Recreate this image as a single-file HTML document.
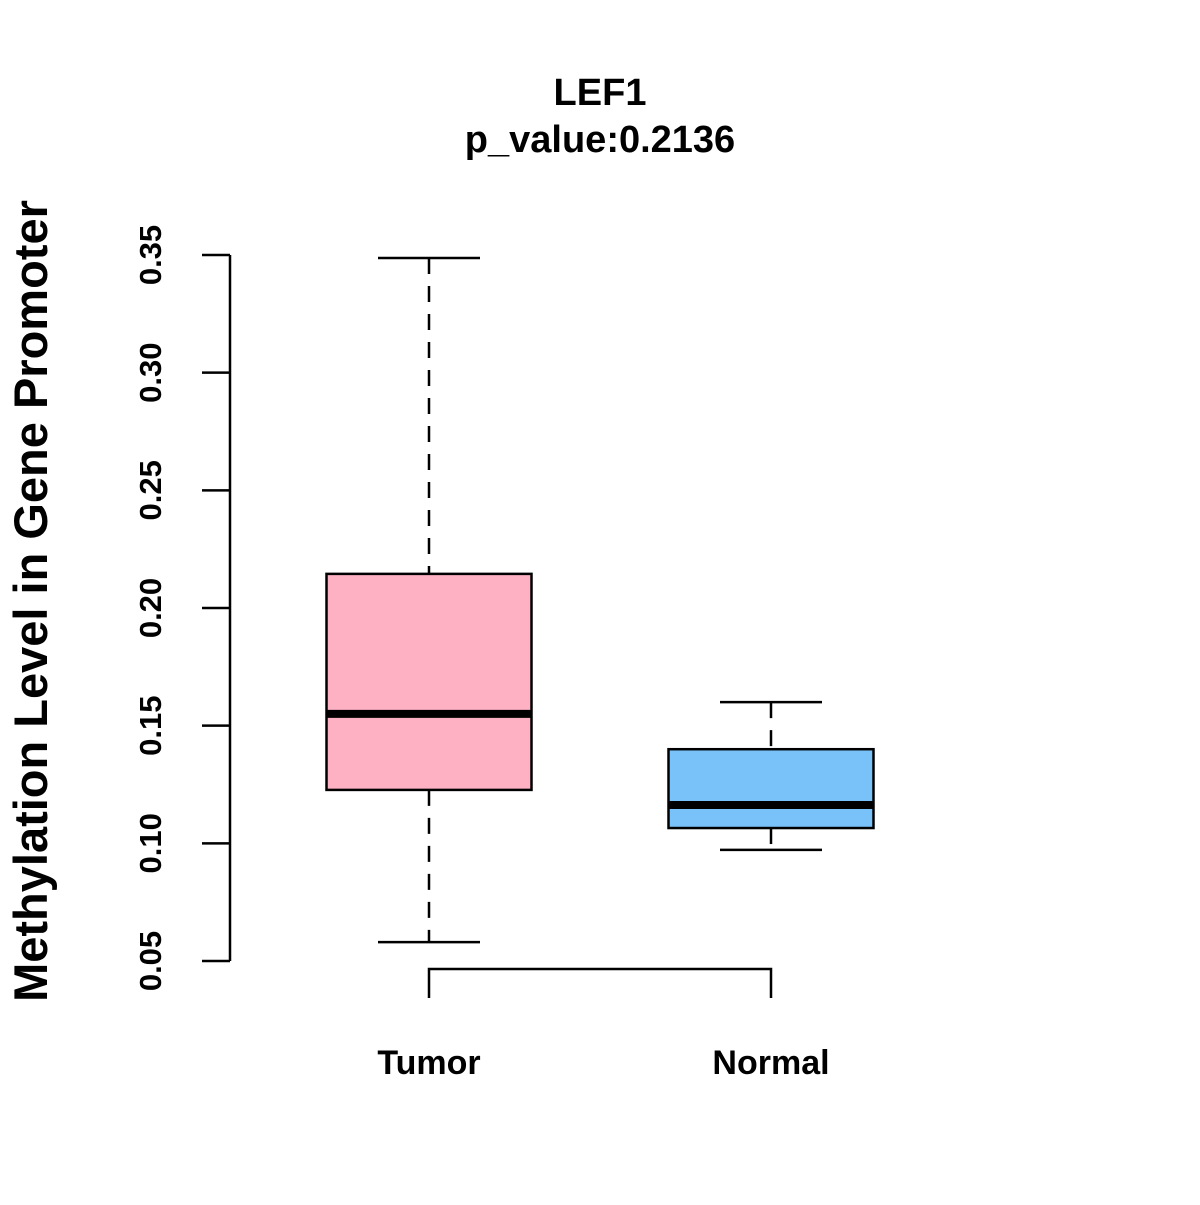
<!DOCTYPE html>
<html><head><meta charset="utf-8"><style>
html,body{margin:0;padding:0;background:#fff;}
svg text{font-family:"Liberation Sans",Arial,sans-serif;font-weight:bold;fill:#000;}
</style></head><body>
<svg id="chart" width="1200" height="1200" viewBox="0 0 1200 1200" xmlns="http://www.w3.org/2000/svg">
<rect width="1200" height="1200" fill="#fff"/>
<text x="600" y="105" font-size="38" text-anchor="middle">LEF1</text>
<text x="600" y="152" font-size="38" text-anchor="middle">p_value:0.2136</text>
<text transform="translate(47,601) rotate(-90)" font-size="47" text-anchor="middle">Methylation Level in Gene Promoter</text>
<g id="yaxis"></g>
<g id="boxes"></g>
<g id="xlabels"></g>
</svg>
<script>
const categories = ["Tumor", "Normal"];
const whiskerMax = [0.3487, 0.160];
const q3Values = [0.2145, 0.140];
const medians = [0.155, 0.1163];
const q1Values = [0.1227, 0.1065];
const whiskerMin = [0.058, 0.0972];
const colors = ["#FDB1C3", "#78C2F9"];
const yTicks = [0.05, 0.10, 0.15, 0.20, 0.25, 0.30, 0.35];
const yTickLabels = ["0.05", "0.10", "0.15", "0.20", "0.25", "0.30", "0.35"];

const NS = "http://www.w3.org/2000/svg";
function y(v){ return 961 - (v - 0.05) / 0.30 * 706; }
function x(i){ return 429 + i * 342; }
function mk(tag, attrs, parent){
  const e = document.createElementNS(NS, tag);
  for (const k in attrs) e.setAttribute(k, attrs[k]);
  parent.appendChild(e); return e;
}
const ya = document.getElementById("yaxis");
const axisLine = mk("line", {x1:230, x2:230, y1:y(yTicks[0]), y2:y(yTicks[yTicks.length-1]), stroke:"#000", "stroke-width":2.5}, ya);


yTicks.forEach((t, i) => {
  const tk = mk("line", {x1:202, x2:230, y1:y(t), y2:y(t), stroke:"#000", "stroke-width":2.5}, ya);
  
  
  const lb = mk("text", {transform:`translate(161,${y(t)}) rotate(-90)`, "font-size":31, "text-anchor":"middle"}, ya);
  lb.textContent = yTickLabels[i];
  
  
});
const bx = document.getElementById("boxes");
const halfBox = 102.5, halfCap = 51;
categories.forEach((c, i) => {
  const cx = x(i);
  const g = mk("g", {}, bx);
  
  
  mk("line", {x1:cx, x2:cx, y1:y(whiskerMax[i]), y2:y(q3Values[i]), stroke:"#000", "stroke-width":2.5, "stroke-dasharray":"16,12"}, g);
  mk("line", {x1:cx, x2:cx, y1:y(q1Values[i]), y2:y(whiskerMin[i]), stroke:"#000", "stroke-width":2.5, "stroke-dasharray":"16,12"}, g);
  mk("line", {x1:cx-halfCap, x2:cx+halfCap, y1:y(whiskerMax[i]), y2:y(whiskerMax[i]), stroke:"#000", "stroke-width":2.5}, g);
  mk("line", {x1:cx-halfCap, x2:cx+halfCap, y1:y(whiskerMin[i]), y2:y(whiskerMin[i]), stroke:"#000", "stroke-width":2.5}, g);
  mk("rect", {x:cx-halfBox, y:y(q3Values[i]), width:halfBox*2, height:y(q1Values[i])-y(q3Values[i]), fill:colors[i], stroke:"#000", "stroke-width":2.5}, g);
  mk("line", {x1:cx-halfBox, x2:cx+halfBox, y1:y(medians[i]), y2:y(medians[i]), stroke:"#000", "stroke-width":8}, g);
});
const br = mk("path", {d:`M${x(0)},998 V969 H${x(1)} V998`, fill:"none", stroke:"#000", "stroke-width":2.5}, bx);


const xl = document.getElementById("xlabels");
categories.forEach((c, i) => {
  const t = mk("text", {x:x(i), y:1074, "font-size":34, "text-anchor":"middle"}, xl);
  t.textContent = c;
  
  
});
</script>
</body></html>
